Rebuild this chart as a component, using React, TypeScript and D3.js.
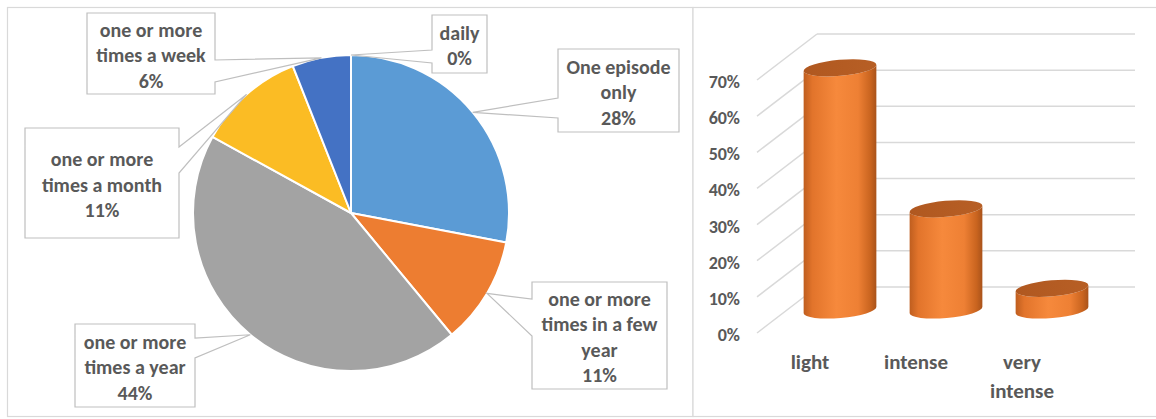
import React from "react";
import * as d3 from "d3";

// ---------- data ----------
const pieCategories = [
  "One episode only",
  "one or more times in a few year",
  "one or more times a year",
  "one or more times a month",
  "one or more times a week",
  "daily",
];
const pieValues = [28, 11, 44, 11, 6, 0];
const pieColors = ["#5B9BD5", "#ED7D31", "#A3A3A3", "#FBBC24", "#4472C4", "#264478"];

const barCategories = ["light", "intense", "very intense"];
const barValues = [0.67, 0.28, 0.06];
const barTicks = [0, 0.1, 0.2, 0.3, 0.4, 0.5, 0.6, 0.7];

// ---------- layout ----------
const W = 1156;
const H = 419;
const TEXT = "#595959";
const FONT = "Carlito, Lato, 'Noto Sans', sans-serif";

// callout boxes (layout only)
const calloutLayout = [
  { x0: 558, y0: 49, x1: 679, y1: 132, side: "left", a: 98, b: 118, breaks: [2] },
  { x0: 532, y0: 282, x1: 667, y1: 389, side: "left", a: 299, b: 336, breaks: [3, 7] },
  { x0: 75, y0: 324, x1: 195, y1: 407, side: "right", a: 338, b: 358, breaks: [3] },
  { x0: 25, y0: 128, x1: 179, y1: 238, side: "right", a: 147, b: 173, breaks: [3] },
  { x0: 87, y0: 13, x1: 215, y1: 94, side: "right", a: 60, b: 82, breaks: [3] },
  { x0: 432, y0: 15, x1: 487, y1: 73, side: "left", a: 50, b: 63, breaks: [] },
];

function splitLines(label: string, breaks: number[]) {
  const words = label.split(" ");
  const out: string[] = [];
  let start = 0;
  for (const b of [...breaks, words.length]) {
    if (b > start) out.push(words.slice(start, b).join(" "));
    start = b;
  }
  return out;
}

function calloutPath(c: any, tip: [number, number]) {
  const { x0, y0, x1, y1, a, b } = c;
  if (c.side === "right") {
    return `M${x0},${y0}H${x1}V${a}L${tip[0]},${tip[1]}L${x1},${b}V${y1}H${x0}Z`;
  }
  return `M${x0},${y0}H${x1}V${y1}H${x0}V${b}L${tip[0]},${tip[1]}L${x0},${a}Z`;
}

export default function App() {
  // ---- pie ----
  const cx = 351;
  const cy = 213;
  const r = 158;
  const pie = d3.pie<number>().sort(null).value((d) => d).startAngle(0).endAngle(2 * Math.PI);
  const arcs = pie(pieValues);
  const arcGen = d3.arc<d3.PieArcDatum<number>>().innerRadius(0).outerRadius(r);
  const edgeArc = d3.arc<d3.PieArcDatum<number>>().innerRadius(r).outerRadius(r);

  // ---- 3D bar chart ----
  const depthDx = 60;
  const depthDy = -46;
  const yFront = d3.scaleLinear().domain([0, 0.7]).range([333, 80]);
  const yBack = (v: number) => yFront(v) + depthDy;
  const yMid = (v: number) => yFront(v) + depthDy / 2;
  const xFront = d3.scaleBand<string>().domain(barCategories).range([757, 1075]).paddingInner(0).paddingOuter(0);
  const backRight = 1135;
  const rx = 36.5;
  const ry = 8;
  const tilt = -5; // degrees
  const t = (tilt * Math.PI) / 180;

  return (
    <svg width={W} height={H} style={{ position: "absolute", left: 0, top: 0, background: "#fff" }}>
      <defs>
        <linearGradient id="cyl" x1="0" y1="0" x2="1" y2="0">
          <stop offset="0" stopColor="#BF5E1F" />
          <stop offset="0.12" stopColor="#E2742B" />
          <stop offset="0.45" stopColor="#F6893C" />
          <stop offset="0.75" stopColor="#EE8034" />
          <stop offset="0.92" stopColor="#C9641F" />
          <stop offset="1" stopColor="#A9531B" />
        </linearGradient>
        <linearGradient id="cylTop" x1="0" y1="0" x2="1" y2="0">
          <stop offset="0" stopColor="#B05820" />
          <stop offset="1" stopColor="#B75F25" />
        </linearGradient>
      </defs>

      {/* panels */}
      <rect x={7.5} y={7.5} width={685.5} height={409} fill="#fff" stroke="#D9D9D9" strokeWidth={1.2} />
      <rect x={693} y={7.5} width={470} height={409} fill="#fff" stroke="#D9D9D9" strokeWidth={1.2} />

      {/* pie */}
      <g transform={`translate(${cx},${cy})`}>
        {arcs.map((a, i) => (
          <path key={i} d={arcGen(a) || ""} fill={pieColors[i]} stroke="#fff" strokeWidth={2} strokeLinejoin="round" />
        ))}
      </g>

      {/* callouts */}
      {arcs.map((a, i) => {
        const c = calloutLayout[i];
        const [tx, ty] = edgeArc.centroid(a);
        const tip: [number, number] = [cx + tx, cy + ty];
        const lines = [...splitLines(pieCategories[i], c.breaks), `${pieValues[i]}%`];
        const lh = 25.5;
        const midY = (c.y0 + c.y1) / 2 + 1.5;
        const midX = (c.x0 + c.x1) / 2;
        return (
          <g key={"c" + i}>
            <path d={calloutPath(c, tip)} fill="#fff" stroke="#BFBFBF" strokeWidth={1.2} strokeLinejoin="miter" />
            {lines.map((ln, j) => (
              <text
                key={j}
                x={midX}
                y={midY + (j - (lines.length - 1) / 2) * lh}
                textAnchor="middle"
                dominantBaseline="central"
                fontFamily={FONT}
                fontWeight="bold"
                fontSize={20}
                fill={TEXT}
              >
                {ln}
              </text>
            ))}
          </g>
        );
      })}

      {/* 3D grid */}
      <g stroke="#D9D9D9" strokeWidth={1.5} fill="none">
        {barTicks.map((v, i) => (
          <g key={i}>
            <line x1={757} y1={yFront(v)} x2={757 + depthDx} y2={yBack(v)} />
            <line x1={757 + depthDx} y1={yBack(v)} x2={backRight} y2={yBack(v)} />
          </g>
        ))}
      </g>

      {/* tick labels */}
      {barTicks.map((v, i) => (
        <text
          key={"t" + i}
          x={740}
          y={yFront(v) + 2}
          textAnchor="end"
          dominantBaseline="central"
          fontFamily={FONT}
          fontWeight="bold"
          fontSize={18}
          fill={TEXT}
        >
          {d3.format(".0%")(v)}
        </text>
      ))}

      {/* cylinders */}
      {barCategories.map((cat, i) => {
        const bx = (xFront(cat) as number) + xFront.bandwidth() / 2 + depthDx / 2;
        const yb = yMid(0);
        const yt = yMid(barValues[i]);
        const ex = rx * Math.cos(t);
        const ey = rx * Math.sin(t);
        const body = `M${bx - ex},${yt - ey}L${bx - ex},${yb - ey}A${rx},${ry} ${tilt} 0 0 ${bx + ex},${yb + ey}L${bx + ex},${yt + ey}A${rx},${ry} ${tilt} 0 1 ${bx - ex},${yt - ey}Z`;
        return (
          <g key={"b" + i}>
            <path d={body} fill="url(#cyl)" />
            <ellipse cx={bx} cy={yt} rx={rx} ry={ry} transform={`rotate(${tilt},${bx},${yt})`} fill="url(#cylTop)" />
          </g>
        );
      })}

      {/* category labels */}
      {barCategories.map((cat, i) => {
        const x = (xFront(cat) as number) + xFront.bandwidth() / 2;
        const words = cat.split(" ");
        return (
          <g key={"l" + i}>
            {words.map((w, j) => (
              <text
                key={j}
                x={x}
                y={362 + j * 29}
                textAnchor="middle"
                dominantBaseline="central"
                fontFamily={FONT}
                fontWeight="bold"
                fontSize={21}
                fill={TEXT}
              >
                {w}
              </text>
            ))}
          </g>
        );
      })}
    </svg>
  );
}
